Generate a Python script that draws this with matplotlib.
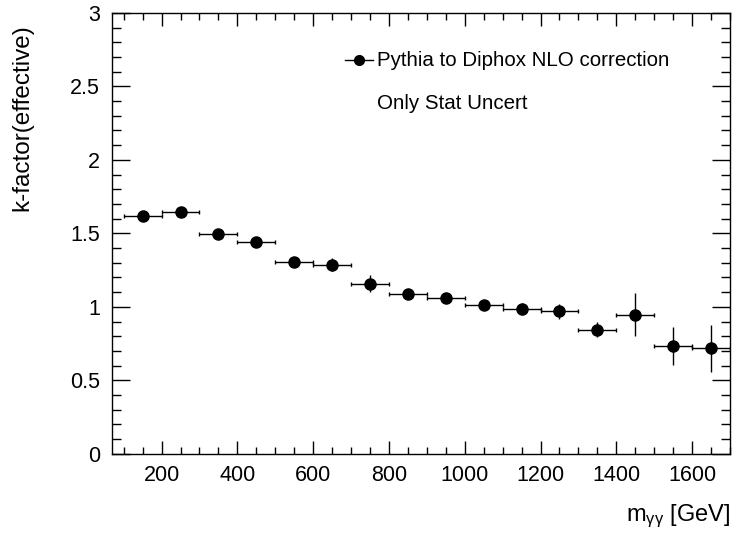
import numpy as np
import matplotlib
matplotlib.use("Agg")
import matplotlib.pyplot as plt
from matplotlib.ticker import MultipleLocator

plt.rcParams['font.family'] = ['Liberation Sans', 'DejaVu Sans']
plt.rcParams['mathtext.fontset'] = 'custom'
plt.rcParams['mathtext.rm'] = 'Liberation Sans'
plt.rcParams['mathtext.it'] = 'Liberation Sans:italic'

# bin centres and k-factor values
mass = [150, 250, 350, 450, 550, 650, 750, 850, 950, 1050, 1150, 1250, 1350, 1450, 1550, 1650]
kfac = [1.62, 1.643, 1.493, 1.443, 1.307, 1.286, 1.157, 1.088, 1.062, 1.010, 0.988, 0.970,
        0.845, 0.946, 0.735, 0.717]
kerr = [0.010, 0.010, 0.012, 0.030, 0.015, 0.043, 0.058, 0.020, 0.027, 0.018, 0.041, 0.052,
        0.052, 0.147, 0.130, 0.160]
half_bin = [50] * len(mass)

fig = plt.figure(figsize=(7.32, 5.35), dpi=100)
ax = fig.add_axes([0.1534, 0.1518, 0.9973 - 0.1534, 0.976 - 0.1518])

# horizontal (bin width) bars with little end ticks, vertical stat errors without caps
ax.errorbar(mass, kfac, xerr=half_bin, fmt='none', ecolor='black', elinewidth=1.0,
            capsize=1.5, capthick=1.0)
ax.errorbar(mass, kfac, yerr=kerr, fmt='o', color='black', ms=8, elinewidth=1.0,
            capsize=0)

ax.set_xlim(70, 1700)
ax.set_ylim(0, 3)
ax.xaxis.set_major_locator(MultipleLocator(200))
ax.xaxis.set_minor_locator(MultipleLocator(50))
ax.yaxis.set_major_locator(MultipleLocator(0.5))
ax.yaxis.set_minor_locator(MultipleLocator(0.1))
ax.yaxis.set_major_formatter(matplotlib.ticker.FuncFormatter(lambda v, p: f"{v:g}"))

ax.tick_params(axis='both', which='both', direction='in', top=True, right=True,
               labelsize=15.5, width=1.0, colors='black')
ax.tick_params(axis='x', which='major', length=9.5, pad=8)
ax.tick_params(axis='x', which='minor', length=4.75)
ax.tick_params(axis='y', which='major', length=13.3, pad=9)
ax.tick_params(axis='y', which='minor', length=6.7)
for s in ax.spines.values():
    s.set_linewidth(1.0)

ax.set_xlabel(r'm$_{\mathrm{γγ}}$ [GeV]', fontsize=17, ha='right', x=1.0, labelpad=12)
ax.set_ylabel('k-factor(effective)', fontsize=17.5, ha='right', y=0.975, labelpad=26)

# legend drawn by hand in ROOT style
ax.plot([0.377, 0.422], [0.893, 0.893], transform=ax.transAxes, color='black', lw=1.0)
ax.plot([0.399], [0.893], 'o', transform=ax.transAxes, color='black', ms=7)
ax.text(0.4285, 0.893, 'Pythia to Diphox NLO correction', transform=ax.transAxes,
        fontsize=14.8, va='center', ha='left')
ax.text(0.4285, 0.795, 'Only Stat Uncert', transform=ax.transAxes,
        fontsize=14.8, va='center', ha='left')

fig.savefig('out.png', dpi=100)
